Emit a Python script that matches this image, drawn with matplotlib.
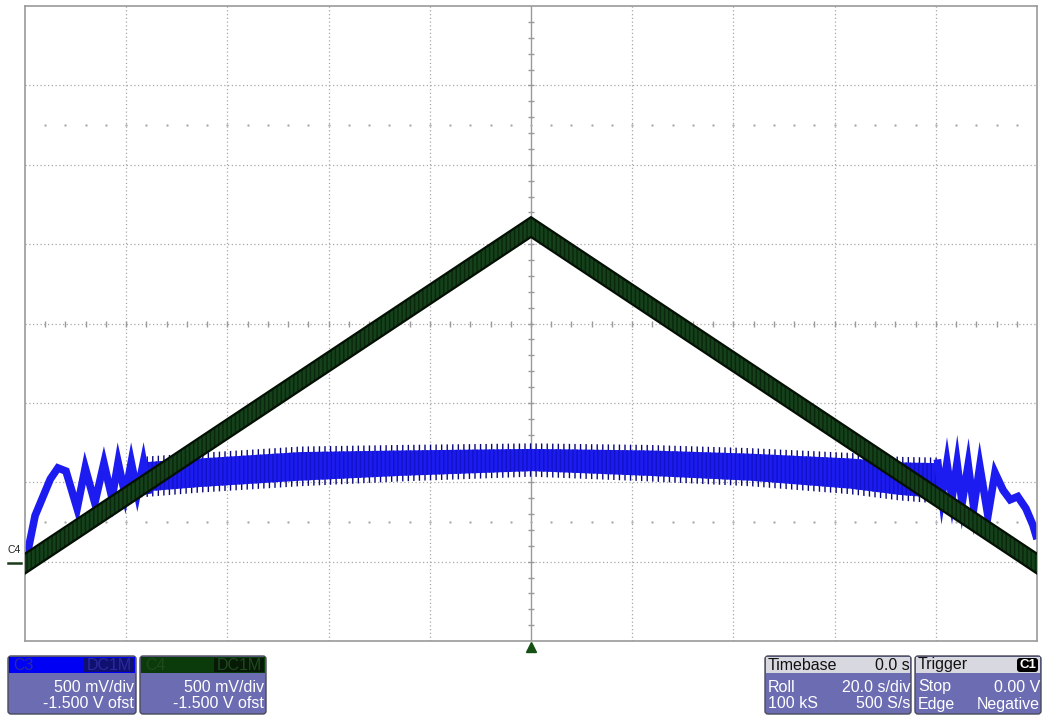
import numpy as np
import matplotlib.pyplot as plt
from matplotlib.patches import FancyBboxPatch, Rectangle

plt.rcParams['font.family'] = ['Liberation Sans', 'DejaVu Sans']
plt.rcParams['hatch.linewidth'] = 1.0

# time axis in s (20 s/div), voltage in V (500 mV/div, -1.5 V offset)
# C4 (green) triangle trace, upper and lower edge of the band
c4_t = [-100, 0, 100]
c4_hi = [0.05, 2.17, 0.05]
c4_lo = [-0.075, 2.045, -0.075]

# C3 (blue) start-up zigzag on the left
c3_left_t = [-99.6, -98.0, -95.0, -93.5, -91.9, -89.7, -88.1, -86.2, -84.4,
             -82.8, -81.6, -80.2, -79.0, -77.8, -76.6, -75.6]
c3_left_v = [0.04, 0.29, 0.52, 0.59, 0.57, 0.335, 0.59, 0.37, 0.62,
             0.40, 0.625, 0.42, 0.625, 0.435, 0.625, 0.45]

# C3 dense band in the middle
c3_band_t = [-77.0, -65.4, -45.6, -25.9, 0.2, 23.5, 43.3, 63.0, 72.9, 81.0]
c3_band_hi = [0.625, 0.65, 0.69, 0.70, 0.71, 0.70, 0.68, 0.65, 0.625, 0.62]
c3_band_lo = [0.44, 0.47, 0.51, 0.54, 0.57, 0.54, 0.51, 0.46, 0.42, 0.40]

# C3 zigzag and drop on the right
c3_right_t = [80.4, 81.2, 82.2, 83.2, 84.2, 85.2, 86.4, 87.5, 88.7, 90.3,
              91.7, 93.3, 94.7, 96.2, 97.8, 99.2, 99.8]
c3_right_v = [0.62, 0.41, 0.62, 0.40, 0.62, 0.37, 0.61, 0.34, 0.60, 0.29,
              0.56, 0.45, 0.39, 0.41, 0.335, 0.23, 0.165]

blue = '#1c1cf0'
navy = '#08087a'
green = '#14401a'

fig = plt.figure(figsize=(10.46, 7.18), dpi=100)
ax = fig.add_axes([25 / 1046, 1 - 641 / 718, 1012 / 1046, 635 / 718])
ax.set_xlim(-100, 100)
ax.set_ylim(-0.5, 3.5)
ax.set_xticks([])
ax.set_yticks([])
for s in ax.spines.values():
    s.set_color('#9a9a9a')
    s.set_linewidth(1.2)

# graticule
grid_kw = dict(color='#a8a8a8', lw=0.9, ls=(0, (1, 2)), zorder=0)
for x in np.arange(-80, 100, 20):
    if x == 0:
        ax.axvline(0, color='#9a9a9a', lw=1.0, zorder=0)
    else:
        ax.axvline(x, **grid_kw)
for y in np.arange(0.0, 3.5, 0.5):
    ax.axhline(y, **grid_kw)
ax.plot(np.zeros(39), np.arange(-0.4, 3.5, 0.1), ls='none', marker='_',
        ms=5, color='#9a9a9a', zorder=0)
ax.plot(np.arange(-96, 100, 4), np.full(49, 1.5), ls='none', marker='|',
        ms=5, color='#9a9a9a', zorder=0)
for y in [0.25, 2.75]:
    ax.plot(np.arange(-96, 100, 4), np.full(49, y), ls='none', marker='.',
            ms=1.5, color='#b0b0b0', zorder=0)

# C3 blue trace: noisy spikes around a solid band
ax.fill_between(c3_band_t, np.array(c3_band_lo) - 0.035, np.array(c3_band_hi) + 0.035,
                facecolor='none', edgecolor=navy, hatch='|||', lw=0, zorder=2)
ax.fill_between(c3_band_t, c3_band_lo, c3_band_hi, facecolor=blue,
                edgecolor='#1212c8', hatch='||||', lw=0, zorder=2)
ax.plot(c3_left_t, c3_left_v, color=blue, lw=5.5, solid_joinstyle='miter', zorder=2)
ax.plot(c3_right_t, c3_right_v, color=blue, lw=5.5, solid_joinstyle='miter', zorder=2)

# C4 green trace
ax.fill_between(c4_t, c4_lo, c4_hi, facecolor=green, edgecolor='#0a260c',
                hatch='||||', lw=0, zorder=3)
ax.plot(c4_t, c4_hi, color='#031003', lw=1.6, zorder=3)
ax.plot(c4_t, c4_lo, color='#031003', lw=1.6, zorder=3)

# overlay in pixel coordinates for the scope annotations
ov = fig.add_axes([0, 0, 1, 1], facecolor='none')
ov.set_xlim(0, 1046)
ov.set_ylim(718, 0)
ov.axis('off')

# channel marker and trigger marker
ov.text(8, 555, 'C4', fontsize=7.5, color='#222222', va='bottom', ha='left')
ov.plot([8, 21], [563, 563], color='#1a3a1a', lw=1.8)
ov.plot([531], [647], marker='^', ms=7, color='#145014')

body = '#6c6cb2'


def panel(x0, x1, head_color, edge='#4a4a5a'):
    ov.add_patch(FancyBboxPatch((x0, 656), x1 - x0, 58,
                                boxstyle='round,pad=0,rounding_size=3',
                                facecolor=body, edgecolor=edge, lw=1.0))
    ov.add_patch(Rectangle((x0 + 1, 657), x1 - x0 - 2, 16, facecolor=head_color,
                           edgecolor='none'))


fs = 11.5
# channel panels
for x0, x1, head, tag, tag_bg, tag_fg in [(8, 136, '#0000f5', 'C3', '#101070', '#2a2aa0'),
                                         (140, 266, '#0b3a0b', 'C4', '#061a06', '#1e4a1e')]:
    panel(x0, x1, head)
    ov.text(x0 + 5, 665, tag, fontsize=fs, color=tag_fg, va='center')
    ov.add_patch(Rectangle((x1 - 52, 658), 50, 14, facecolor=tag_bg, edgecolor='none'))
    ov.text(x1 - 4, 665, 'DC1M', fontsize=fs, color=tag_fg, va='center', ha='right')
    ov.text(x1 - 2, 687, '500 mV/div', fontsize=fs, color='white', va='center', ha='right')
    ov.text(x1 - 2, 704, '-1.500 V ofst', fontsize=fs, color='white', va='center', ha='right')

# timebase panel
panel(765, 911, '#d8d8e0')
ov.text(768, 665, 'Timebase', fontsize=fs, color='#111111', va='center')
ov.text(910, 665, '0.0 s', fontsize=fs, color='#111111', va='center', ha='right')
ov.text(768, 687, 'Roll', fontsize=fs, color='white', va='center')
ov.text(910, 687, '20.0 s/div', fontsize=fs, color='white', va='center', ha='right')
ov.text(768, 704, '100 kS', fontsize=fs, color='white', va='center')
ov.text(910, 704, '500 S/s', fontsize=fs, color='white', va='center', ha='right')

# trigger panel
panel(915, 1041, '#d8d8e0')
ov.text(918, 665, 'Trigger', fontsize=fs, color='#111111', va='center')
ov.add_patch(FancyBboxPatch((1017, 658), 21, 14, boxstyle='round,pad=0,rounding_size=3',
                            facecolor='black', edgecolor='none'))
ov.text(1027.5, 665, 'C1', fontsize=9.5, color='white', va='center', ha='center',
        fontweight='bold')
ov.text(918, 687, 'Stop', fontsize=fs, color='white', va='center')
ov.text(1040, 687, '0.00 V', fontsize=fs, color='white', va='center', ha='right')
ov.text(918, 704, 'Edge', fontsize=fs, color='white', va='center')
ov.text(1040, 704, 'Negative', fontsize=fs, color='white', va='center', ha='right')

fig.savefig('out.png', dpi=100)
